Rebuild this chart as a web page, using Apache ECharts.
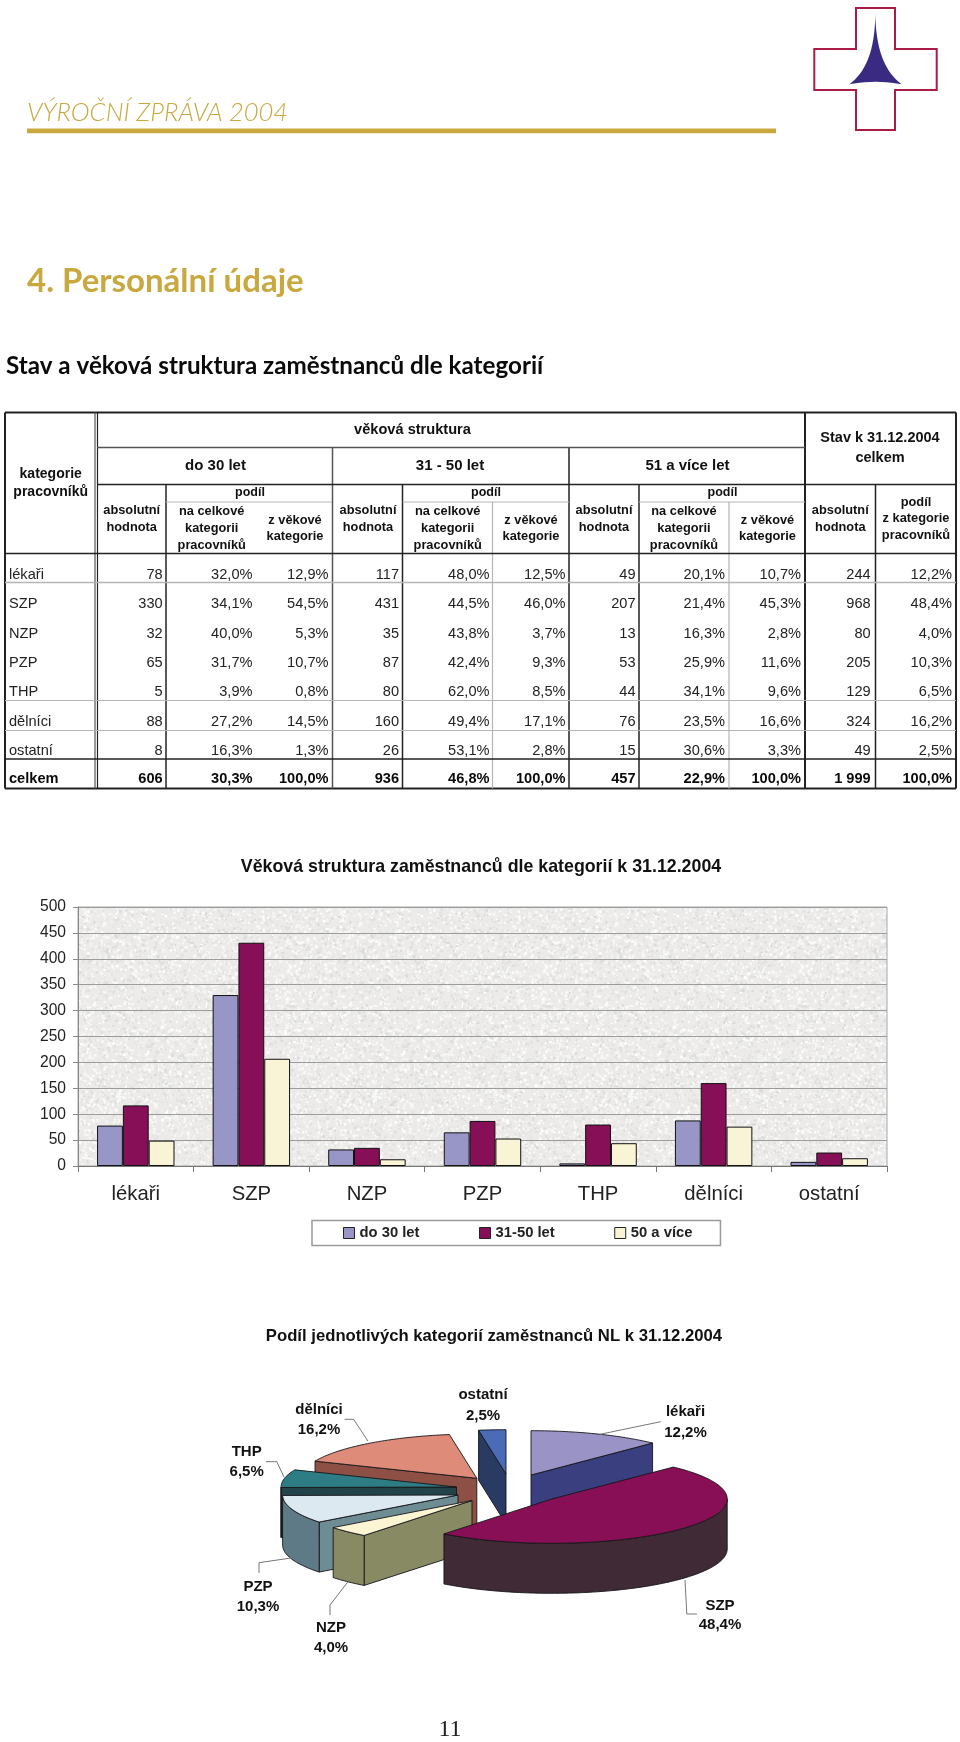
<!DOCTYPE html>
<html><head><meta charset="utf-8">
<style>html,body{margin:0;padding:0;background:#fff}#c{width:960px;height:1742px;filter:blur(0.35px)}</style>
<script src="https://cdn.jsdelivr.net/npm/echarts@6/dist/echarts.min.js"></script>
</head><body><div id="c"></div>
<script>
// ---------- data ----------
const categories = ['lékaři','SZP','NZP','PZP','THP','dělníci','ostatní'];
const under30 = [78,330,32,65,5,88,8];
const age31to50 = [117,431,35,87,80,160,26];
const age51plus = [49,207,13,53,44,76,15];
const seriesNames = ['do 30 let','31-50 let','50 a více'];
const yTicks = {min:0,max:500,interval:50};
const tableRowLabels = ['lékaři','SZP','NZP','PZP','THP','dělníci','ostatní','celkem'];
const colAbsU30 = ['78','330','32','65','5','88','8','606'];
const colCatU30 = ['32,0%','34,1%','40,0%','31,7%','3,9%','27,2%','16,3%','30,3%'];
const colAgeU30 = ['12,9%','54,5%','5,3%','10,7%','0,8%','14,5%','1,3%','100,0%'];
const colAbsMid = ['117','431','35','87','80','160','26','936'];
const colCatMid = ['48,0%','44,5%','43,8%','42,4%','62,0%','49,4%','53,1%','46,8%'];
const colAgeMid = ['12,5%','46,0%','3,7%','9,3%','8,5%','17,1%','2,8%','100,0%'];
const colAbsOld = ['49','207','13','53','44','76','15','457'];
const colCatOld = ['20,1%','21,4%','16,3%','25,9%','34,1%','23,5%','30,6%','22,9%'];
const colAgeOld = ['10,7%','45,3%','2,8%','11,6%','9,6%','16,6%','3,3%','100,0%'];
const colAbsAll = ['244','968','80','205','129','324','49','1 999'];
const colCatAll = ['12,2%','48,4%','4,0%','10,3%','6,5%','16,2%','2,5%','100,0%'];
const pieCategories = ['lékaři','SZP','NZP','PZP','THP','dělníci','ostatní'];
const pieShares = [12.2,48.4,4.0,10.3,6.5,16.2,2.5];

// ---------- style / layout ----------
const sans = '"Liberation Sans",Arial,sans-serif';
const gold = '#c8a83f';
const pieTop  = ['#9a93c6','#880f55','#fcf5d3','#dde9f1','#2e7d84','#de8b7a','#4a6cb6'];
const pieRim  = ['#3a3f80','#3f2a35','#888a64','#5e7a86','#23434a','#8e4f44','#2a3b63'];
const pieWall = ['#3a3f80','#3f2a35','#888a64','#6e8c94','#23434a','#8e4f44','#2a3b63'];
// apex of each exploded slice on the page
const pieExplode = [[531,1475],[551.8,1499],[472,1500.5],[458,1495],[456.5,1487],[476.8,1478.3],[506,1474]];
const pieDrawOrder = [5,6,0,4,3,2,1];
const pieRx = 175.4, pieRy = 44.3, pieDepth = 50;

const chart = echarts.init(document.getElementById('c'), null, {renderer:'canvas', width:960, height:1742});

function txt(text,x,y,font,align,fill,extra){
  return Object.assign({type:'text',x:x,y:y,silent:true,z:100,style:{text:text,font:font,fill:fill||'#111',textAlign:align||'center',textVerticalAlign:'middle'}},extra||{});
}
function ln(x1,y1,x2,y2,c,w){
  return {type:'line',silent:true,z:99,shape:{x1,y1,x2,y2},style:{stroke:c,lineWidth:w||1}};
}
function bez(p0,p1,p2,p3,n){
  const o=[];for(let k=0;k<=n;k++){const t=k/n,u=1-t;o.push([u*u*u*p0[0]+3*u*u*t*p1[0]+3*u*t*t*p2[0]+t*t*t*p3[0],u*u*u*p0[1]+3*u*u*t*p1[1]+3*u*t*t*p2[1]+t*t*t*p3[1]]);}return o;
}
const els = [];
// page headings
els.push(txt('VÝROČNÍ ZPRÁVA 2004',27,113,'italic 300 25.5px Lato,"Open Sans",sans-serif','left',gold));
els.push({type:'rect',silent:true,shape:{x:27,y:128.5,width:749,height:4.8},style:{fill:gold}});
els.push(txt('4. Personální údaje',27,281,'bold 33px Lato,"Open Sans",sans-serif','left',gold));
els.push(txt('Stav a věková struktura zaměstnanců dle kategorií',6,366,'bold 24.2px Lato,"Open Sans",sans-serif','left','#0a0a0a'));
// logo
els.push({type:'polygon',silent:true,shape:{points:[[856,8],[895,8],[895,49],[936.7,49],[936.7,90],[895,90],[895,130],[856,130],[856,90],[814.3,90],[814.3,49],[856,49]]},style:{fill:'#fff',stroke:'#ab1c44',lineWidth:2}});
els.push({type:'polygon',silent:true,shape:{points:bez([875.3,13.3],[875.8,50],[885,72],[901.7,84.3],24).concat(bez([901.7,84.3],[885,81],[866,81],[849.3,84.3],10),bez([849.3,84.3],[866,72],[875,50],[875.3,13.3],24))},style:{fill:'#3b2a82'}});

// table lines
const dark='#222', mid='#555', light='#b5b5b5';
const T={l:5,r:956,t:412.5,b:788.5};
[[T.l,T.t,T.r,T.t,dark,2],[T.l,T.b,T.r,T.b,dark,2],[T.l,T.t,T.l,T.b,dark,2],[T.r,T.t,T.r,T.b,dark,2],
 [95,T.t,95,T.b,mid,1.2],[97.5,T.t,97.5,T.b,dark,1.2],
 [166,484.5,166,T.b,dark,1.5],[332.5,447.5,332.5,T.b,mid,1.5],[402.5,484.5,402.5,T.b,dark,1.5],
 [492.5,502,492.5,T.b,light,1.2],[569,447.5,569,T.b,dark,1.5],[639,484.5,639,T.b,dark,1.5],
 [729,502,729,T.b,light,1.2],[805,T.t,805,T.b,dark,2],[875.5,484.5,875.5,T.b,dark,1.5],
 [97,447.5,805,447.5,mid,1.5],[97,484.5,956,484.5,dark,1.5],
 [166,502,332,502,light,1.2],[402.5,502,569,502,light,1.2],[639,502,805,502,light,1.2],
 [5,553.5,956,553.5,dark,1.5],[5,582.5,956,582.5,light,1.5],[5,700.5,956,700.5,light,1.2],[5,730.5,956,730.5,light,1.2],[5,759,956,759,dark,1.5]
].forEach(a=>els.push(ln.apply(null,a)));
// table header text
const hb=s=>'bold '+s+'px '+sans;
els.push(txt('věková struktura',412.5,430,hb(14.6)));
els.push(txt('kategorie',50.7,474,hb(14)));els.push(txt('pracovníků',50.7,492.3,hb(14)));
[['do 30 let',215.5],['31 - 50 let',450],['51 a více let',687.5]].forEach(h=>els.push(txt(h[0],h[1],465.7,hb(15))));
els.push(txt('Stav k 31.12.2004',880,438.3,hb(14.5)));els.push(txt('celkem',880,457.7,hb(14.5)));
[250,486,722.5].forEach(x=>els.push(txt('podíl',x,493,hb(12.5))));
[131.7,368,604,840.3].forEach(x=>{els.push(txt('absolutní',x,510.7,hb(12.8)));els.push(txt('hodnota',x,527,hb(12.8)));});
[211.7,447.7,684].forEach(x=>{els.push(txt('na celkové',x,511.7,hb(12.8)));els.push(txt('kategorii',x,528,hb(12.8)));els.push(txt('pracovníků',x,545,hb(12.8)));});
[295,531,767.5].forEach(x=>{els.push(txt('z věkové',x,520,hb(12.8)));els.push(txt('kategorie',x,536.7,hb(12.8)));});
els.push(txt('podíl',916,502,hb(12.8)));els.push(txt('z kategorie',916,518.7,hb(12.8)));els.push(txt('pracovníků',916,535.3,hb(12.8)));
// table body
const rowY=[575,604.3,633.7,663,692.3,721.7,751.3,779];
const cols=[[colAbsU30,162.7],[colCatU30,252.5],[colAgeU30,328.5],[colAbsMid,399],[colCatMid,489.5],[colAgeMid,565.5],[colAbsOld,635.5],[colCatOld,725],[colAgeOld,801],[colAbsAll,870.7],[colCatAll,952]];
rowY.forEach((y,r)=>{
  const f=(r===7?'bold ':'')+'14.6px '+sans, c=r===7?'#0a0a0a':'#222';
  els.push(txt(tableRowLabels[r],9,y,f,'left',c));
  cols.forEach(cl=>els.push(txt(cl[0][r],cl[1],y,f,'right',c)));
});
// chart titles
els.push(txt('Věková struktura zaměstnanců dle kategorií k 31.12.2004',481,867,hb(17.8)));
els.push(txt('Podíl jednotlivých kategorií zaměstnanců NL k 31.12.2004',494,1336,hb(16.7)));
// page number
els.push(txt('11',450,1729.5,'24px "Liberation Serif",serif','center','#222'));
// pie labels + leaders
const pieLabelPos=[[685.5,1412,685.5,1433],[720,1606,720,1625],[331,1628,331,1648],[258,1586.7,258,1606.7],[246.7,1452,246.7,1472],[319,1410,319,1430],[483,1395,483,1415.5]];
pieCategories.forEach((n,i)=>{
  const p=pieLabelPos[i];
  els.push(txt(n,p[0],p[1],hb(15)));
  els.push(txt(pieShares[i].toFixed(1).replace('.',',')+'%',p[2],p[3],hb(15)));
});
const leaders=[[[600,1434.3],[660.7,1421.7]],[[367.9,1441],[353.6,1419.3],[344.6,1419.3]],[[284,1477],[276.8,1461.7],[266,1461.7]],[[291,1558],[259,1562.7],[259,1573]],[[348,1581.7],[330,1605],[330,1615]],[[685,1580],[686.8,1614],[697,1614]]];
leaders.forEach(pts=>els.push({type:'polyline',silent:true,z:98,shape:{points:pts},style:{stroke:'#777',lineWidth:1,fill:'none'}}));

// plot texture (deterministic speckle, decoration only)
function speckle(){
  const s=256,cv=document.createElement('canvas');cv.width=cv.height=s;
  const g=cv.getContext('2d');g.fillStyle='#ecebe9';g.fillRect(0,0,s,s);
  let seed=12345;const rnd=()=>(seed=(seed*1103515245+12345)&0x7fffffff)/0x7fffffff;
  for(let i=0;i<7000;i++){
    const v=rnd()<0.45?218+rnd()*14:244+rnd()*11;
    g.fillStyle='rgb('+(v|0)+','+(v|0)+','+((v-1)|0)+')';
    g.fillRect(rnd()*s,rnd()*s,1+rnd()*2,1+rnd()*2);
  }
  return cv;
}

// 3D exploded pie through a custom series
const cum=[];pieShares.reduce((a,v,i)=>{cum[i]=a;return a+v;},0);
const total=pieShares.reduce((a,b)=>a+b,0);
function renderSlice(params,api){
  const idx=api.value(0), share=api.value(1);
  const t1=cum[idx]/total*2*Math.PI, t2=t1+share/total*2*Math.PI;
  const A=pieExplode[idx];
  const P=(t,d)=>[A[0]+pieRx*Math.sin(t),A[1]-pieRy*Math.cos(t)+(d||0)];
  const arc=(a,b,d)=>{const n=Math.max(2,Math.ceil((b-a)/0.02)),o=[];for(let k=0;k<=n;k++)o.push(P(a+(b-a)*k/n,d));return o;};
  const edge={stroke:'#15151a',lineWidth:0.9,lineJoin:'round'};
  const kids=[];
  const face=(pts,fill)=>kids.push({type:'polygon',shape:{points:pts},style:Object.assign({fill},edge)});
  if(Math.sin(t1)<0){const r=P(t1);face([A,r,[r[0],r[1]+pieDepth],[A[0],A[1]+pieDepth]],pieWall[idx]);}
  if(Math.sin(t2)>0){const r=P(t2);face([A,r,[r[0],r[1]+pieDepth],[A[0],A[1]+pieDepth]],pieWall[idx]);}
  const a=Math.max(t1,Math.PI/2), b=Math.min(t2,1.5*Math.PI);
  if(b>a) face(arc(a,b,0).concat(arc(a,b,pieDepth).reverse()),pieRim[idx]);
  face([A].concat(arc(t1,t2,0)),pieTop[idx]);
  return {type:'group',children:kids};
}

const barBase={type:'bar',barGap:0,barCategoryGap:'33%'};
chart.setOption({
  animation:false,
  backgroundColor:'#fff',
  textStyle:{fontFamily:sans},
  grid:{left:78,top:907,width:809,height:259,show:true,backgroundColor:{image:speckle(),repeat:'repeat'},borderColor:'#a8a8a8',borderWidth:1,containLabel:false},
  legend:{left:312,top:1220.5,orient:'horizontal',padding:[5,28,5,31],itemWidth:11,itemHeight:11,itemGap:59.5,
    icon:'rect',backgroundColor:'#fff',borderColor:'#9a9a9a',borderWidth:1.5,
    data:seriesNames,textStyle:{fontFamily:sans,fontWeight:'bold',fontSize:14.8,color:'#222'},
    itemStyle:{borderColor:'#222',borderWidth:1}},
  xAxis:{type:'category',data:categories,axisTick:{show:true,length:6,alignWithLabel:false,lineStyle:{color:'#777'}},
    axisLine:{lineStyle:{color:'#777',width:1}},axisLabel:{color:'#222',fontSize:20.3,margin:18.5,fontFamily:sans}},
  yAxis:{type:'value',min:yTicks.min,max:yTicks.max,interval:yTicks.interval,
    axisLine:{show:true,lineStyle:{color:'#888'}},axisTick:{show:true,length:5,lineStyle:{color:'#888'}},
    axisLabel:{color:'#222',fontSize:15.6,margin:12,fontFamily:sans},splitLine:{show:true,lineStyle:{color:'#9c9c9c',width:1}}},
  series:[
    Object.assign({name:seriesNames[0],data:under30},barBase,{itemStyle:{color:'#9896c6',borderColor:'#111',borderWidth:1}}),
    Object.assign({name:seriesNames[1],data:age31to50},barBase,{itemStyle:{color:'#860f57',borderColor:'#111',borderWidth:1}}),
    Object.assign({name:seriesNames[2],data:age51plus},barBase,{itemStyle:{color:'#faf4d6',borderColor:'#111',borderWidth:1}}),
    {type:'custom',coordinateSystem:'none',silent:true,renderItem:renderSlice,
     data:pieDrawOrder.map(i=>[i,pieShares[i]]),z:50}
  ],
  graphic:{elements:els}
});
</script></body></html>
